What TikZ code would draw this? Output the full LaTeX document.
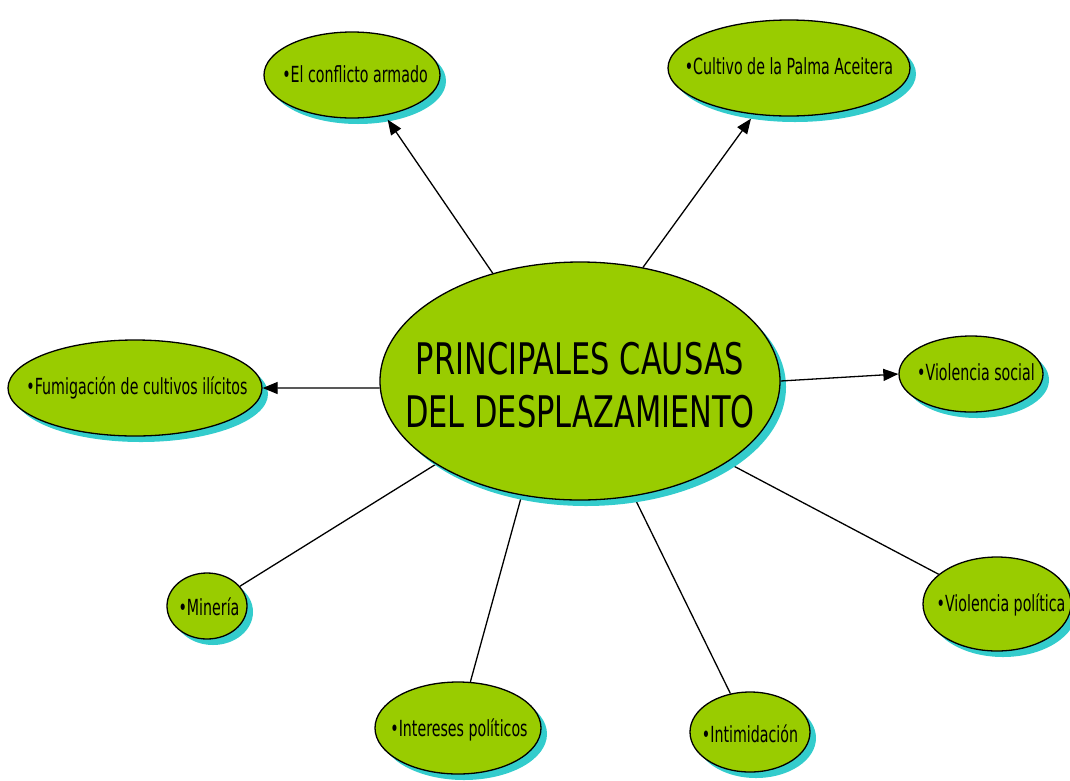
\documentclass[tikz,border=0pt]{standalone}
\usepackage{fontspec}
\setmainfont{DejaVu Sans}[FakeStretch=0.7]
\newfontfamily\narrowfont{DejaVu Sans}[FakeStretch=0.64]
\usetikzlibrary{shapes.geometric,shadows,arrows.meta,backgrounds}
\definecolor{bubgreen}{HTML}{99CC00}
\definecolor{bubshadow}{HTML}{33CCCC}
\tikzset{
  bub/.style={ellipse, draw=black, line width=1.3pt, fill=bubgreen, inner sep=0pt,
    drop shadow={shadow xshift=6pt, shadow yshift=-6pt, fill=bubshadow, opacity=1}},
  txt/.style={font=\narrowfont\fontsize{22.2pt}{26pt}\selectfont, inner sep=0pt, text=black},
  bigtxt/.style={font=\fontsize{43.5pt}{53pt}\selectfont, align=center, inner sep=0pt, text=black},
  conn/.style={draw=black, line width=1.3pt},
  arr/.style={conn, -{Triangle[length=15pt,width=12pt]}}
}
\begin{document}
\begin{tikzpicture}[x=1pt,y=-1pt]
\useasboundingbox (0,0) rectangle (1070,780);
% bubbles
\node[bub, minimum width=400pt, minimum height=238pt] (c) at (580,381) {};
\node[bub, minimum width=176pt, minimum height=86pt] (a) at (352,75) {};
\node[bub, minimum width=242pt, minimum height=96pt] (b) at (789,68) {};
\node[bub, minimum width=254pt, minimum height=96pt] (f) at (135,388) {};
\node[bub, minimum width=144pt, minimum height=76pt] (vs) at (971,374) {};
\node[bub, minimum width=80pt, minimum height=66pt] (m) at (207,606) {};
\node[bub, minimum width=148pt, minimum height=94pt] (vp) at (997,604) {};
\node[bub, minimum width=166pt, minimum height=92pt] (ip) at (458,728) {};
\node[bub, minimum width=120pt, minimum height=80pt] (im) at (750,732) {};
% texts
\node[bigtxt] (ct) at (580,385) {PRINCIPALES CAUSAS\\DEL DESPLAZAMIENTO};
\node[txt] (at) at (355,74) {•El conflicto armado};
\node[txt] (bt) at (789,66) {•Cultivo de la Palma Aceitera};
\node[txt] (ft) at (137,388) {•Fumigación de cultivos ilícitos};
\node[txt] (vst) at (976,372) {•Violencia social};
\node[txt] (mt) at (209,607) {•Minería};
\node[txt] (vpt) at (1001,605) {•Violencia política};
\node[txt] (ipt) at (459,730) {•Intereses políticos};
\node[txt] (imt) at (750,734) {•Intimidación};
% connectors
\begin{scope}[on background layer]
\draw[conn] (c.210) -- (m.31);
\draw[conn] (c.243) -- (ip.75);
\draw[conn] (c.295) -- (im.117);
\draw[conn] (c.331) -- (vp.153);
\end{scope}
\draw[arr, shorten >=5pt] (c.129.5) -- (a.-51);
\draw[arr, shorten >=5pt] (c.61) -- (b.233);
\draw[arr] (c.182) -- (f.east);
\draw[arr] (c.east) -- (vs.west);
\end{tikzpicture}
\end{document}
